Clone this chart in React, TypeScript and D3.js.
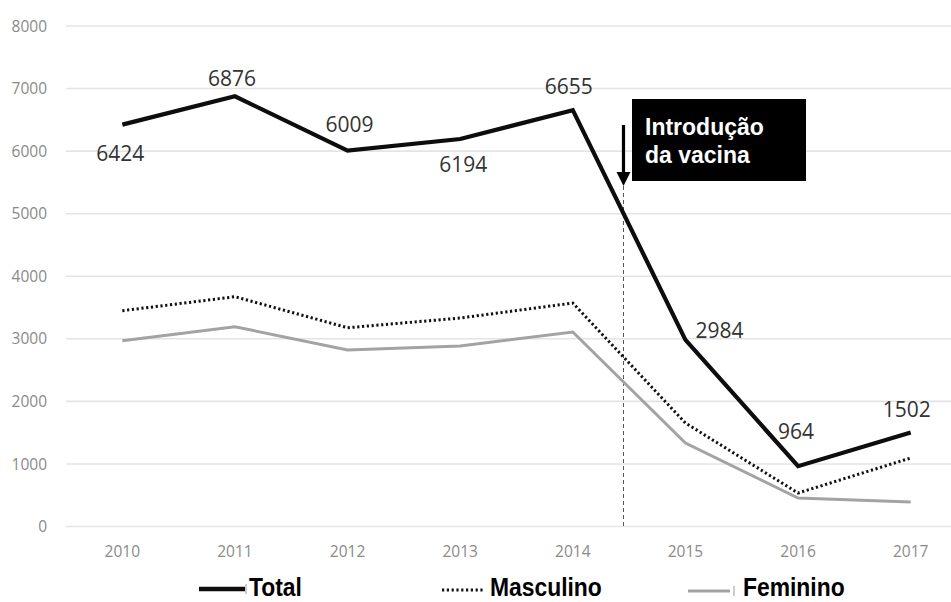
import React from "react";
import * as d3 from "d3";

// Casos notificados por ano
const years = ["2010", "2011", "2012", "2013", "2014", "2015", "2016", "2017"];
const total = [6424, 6876, 6009, 6194, 6655, 2984, 964, 1502];
const masculino = [3449, 3673, 3177, 3332, 3572, 1654, 535, 1095];
const feminino = [2970, 3193, 2821, 2885, 3108, 1335, 455, 392];
const yTicks = [0, 1000, 2000, 3000, 4000, 5000, 6000, 7000, 8000];
const vaccineAt = 2014.45; // introdução da vacina (posição entre 2014 e 2015)
const legendItems = ["Total", "Masculino", "Feminino"];

// Deslocamento (dx, dy) de cada rótulo em relação ao ponto
const labelOffsets: [number, number][] = [
  [-2, 36],
  [-3, -10],
  [2, -19],
  [3, 33],
  [-4, -16],
  [34, -2],
  [-2, -27],
  [-4, -16],
];

const W = 951;
const H = 602;

export default function App() {
  const x = d3.scaleBand<string>().domain(years).range([66, 967]).padding(0);
  const cx = (y: string) => (x(y) ?? 0) + x.bandwidth() / 2;
  const y = d3.scaleLinear().domain([0, 8000]).range([526.5, 26]);

  const line = d3
    .line<number>()
    .x((_, i) => cx(years[i]))
    .y((v) => y(v));

  const vx = cx("2014") + (vaccineAt - 2014) * x.bandwidth();

  const tickFont = "'Open Sans', 'Liberation Sans', sans-serif";
  const boldFont = "'Liberation Sans', Arial, sans-serif";

  // legenda em fonte condensada (escala horizontal)
  const LegendText = ({ x0, y0, label }: { x0: number; y0: number; label: string }) => (
    <text
      transform={`translate(${x0},${y0}) scale(0.88,1)`}
      fontFamily={boldFont}
      fontWeight="bold"
      fontSize={26}
      fill="#000"
    >
      {label}
    </text>
  );

  return (
    <svg
      width={W}
      height={H}
      style={{ position: "absolute", left: 0, top: 0, background: "#fff" }}
    >
      <rect x={0} y={0} width={W} height={H} fill="#fff" />
      {/* grade horizontal */}
      {yTicks.map((t) => (
        <g key={t}>
          <line x1={66} x2={W} y1={y(t)} y2={y(t)} stroke="#e4e4e4" strokeWidth={1.6} />
          <text
            x={47}
            y={y(t)}
            dy="0.36em"
            textAnchor="end"
            fontFamily={tickFont}
            fontSize={15.5}
            fill="#8a8a8a"
          >
            {t}
          </text>
        </g>
      ))}
      {/* eixo x */}
      {years.map((yr) => (
        <text
          key={yr}
          x={cx(yr)}
          y={557}
          textAnchor="middle"
          fontFamily={tickFont}
          fontSize={15.5}
          fill="#8a8a8a"
        >
          {yr}
        </text>
      ))}

      {/* linha tracejada da vacina */}
      <line
        x1={vx}
        x2={vx}
        y1={186}
        y2={y(0)}
        stroke="#555"
        strokeWidth={1}
        strokeDasharray="4,3"
      />

      {/* séries */}
      <path d={line(feminino) ?? ""} fill="none" stroke="#a3a3a3" strokeWidth={3} />
      <path
        d={line(masculino) ?? ""}
        fill="none"
        stroke="#111"
        strokeWidth={3}
        strokeDasharray="2.2,2.6"
      />
      <path
        d={line(total) ?? ""}
        fill="none"
        stroke="#0d0d0d"
        strokeWidth={4.2}
        strokeLinejoin="miter"
      />

      {/* rótulos do total */}
      {total.map((v, i) => (
        <text
          key={i}
          x={cx(years[i]) + labelOffsets[i][0]}
          y={y(v) + labelOffsets[i][1]}
          textAnchor="middle"
          fontFamily={tickFont}
          fontSize={21}
          fill="#333"
        >
          {v}
        </text>
      ))}

      {/* seta e caixa de anotação */}
      <line x1={vx} x2={vx} y1={125} y2={173} stroke="#000" strokeWidth={3.2} />
      <polygon
        points={`${vx - 7},${172} ${vx + 7},${172} ${vx},${186}`}
        fill="#000"
      />
      <rect x={632} y={99} width={174} height={82} fill="#000" />
      <text x={645} y={135} fontFamily={boldFont} fontWeight="bold" fontSize={23} fill="#fff">
        Introdução
      </text>
      <text x={645} y={163} fontFamily={boldFont} fontWeight="bold" fontSize={23} fill="#fff">
        da vacina
      </text>

      {/* legenda */}
      <g>
        <line x1={199} x2={245} y1={589} y2={589} stroke="#0d0d0d" strokeWidth={4.5} />
        <line x1={246} x2={246} y1={584} y2={594} stroke="#999" strokeWidth={1} />
        <LegendText x0={249} y0={596} label={legendItems[0]} />
        <line
          x1={442}
          x2={485}
          y1={590}
          y2={590}
          stroke="#111"
          strokeWidth={3}
          strokeDasharray="2.2,2.6"
        />
        <LegendText x0={490} y0={596} label={legendItems[1]} />
        <line x1={688} x2={730} y1={591} y2={591} stroke="#a3a3a3" strokeWidth={3} />
        <line x1={734} x2={734} y1={586} y2={596} stroke="#999" strokeWidth={1} />
        <LegendText x0={743} y0={596} label={legendItems[2]} />
      </g>
    </svg>
  );
}
